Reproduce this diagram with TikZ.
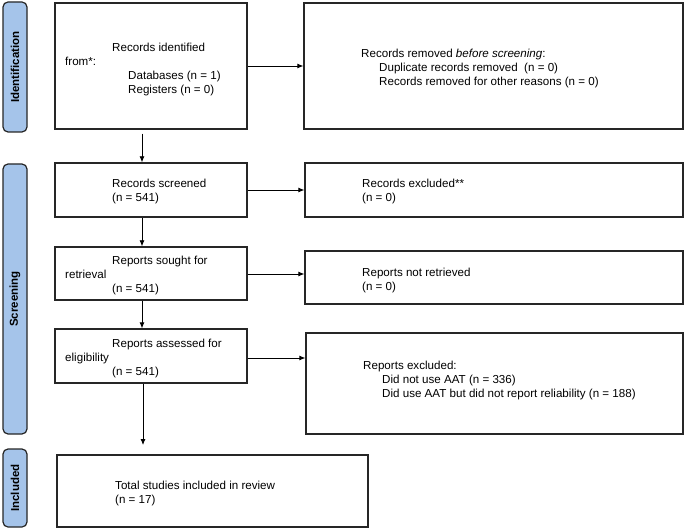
\documentclass[tikz,border=0pt]{standalone}
\usepackage{fontspec}
\setmainfont{Liberation Sans}
\usetikzlibrary{arrows.meta}
\definecolor{sidefill}{RGB}{165,196,234}

\begin{document}
\begin{tikzpicture}[x=1pt,y=-1pt,>={Latex[length=6pt,width=5pt]}]
		\tikzstyle{box}=[rectangle,draw=black!85,line width=1.3pt,fill=white]
		\tikzstyle{side}=[rectangle,rounded corners=5pt,draw=black!85,line width=1.2pt,fill=sidefill,rotate=90,minimum height=24pt,font=\bfseries\fontsize{11.5}{14}\selectfont]
		\tikzstyle{txt}=[anchor=north west,align=left,inner sep=0pt,font=\fontsize{11.6}{14}\selectfont]
		\tikzstyle{edge}=[draw=black,line width=0.8pt,->]

		\useasboundingbox (0,0) rectangle (685,529);

		\begin{scope}

			\node [side,minimum width=130pt] (sidident) at (15,67) {Identification};
			\node [side,minimum width=270pt] (sidscreen) at (15,299) {Screening};
			\node [side,minimum width=78pt] (sidincl) at (15,488) {Included};

			\node [box,minimum width=192pt,minimum height=126pt] (ident) at (151,66) {};
			\node [box,minimum width=379pt,minimum height=126pt] (removed) at (493.5,66) {};
			\node [box,minimum width=192pt,minimum height=54pt] (screened) at (151,190) {};
			\node [box,minimum width=378pt,minimum height=54pt] (excluded) at (494,190) {};
			\node [box,minimum width=192pt,minimum height=53pt] (sought) at (151,273.5) {};
			\node [box,minimum width=378pt,minimum height=53pt] (notretr) at (494,277.5) {};
			\node [box,minimum width=192pt,minimum height=54pt] (assessed) at (151,356) {};
			\node [box,minimum width=377pt,minimum height=101pt] (repexcl) at (494.5,383.5) {};
			\node [box,minimum width=311pt,minimum height=72pt] (included) at (212.5,491) {};

			\node [txt] (identtxt) at (65,42.5) {\hspace*{47pt}Records identified\\from*:\\\hspace*{63pt}Databases (n = 1)\\\hspace*{63pt}Registers (n = 0)};
			\node [txt] (removedtxt) at (361,48.5) {Records removed \textit{before screening}:\\\hspace*{18pt}Duplicate records removed\ \ (n = 0)\\\hspace*{18pt}Records removed for other reasons (n = 0)};
			\node [txt] (screenedtxt) at (112,178.5) {Records screened\\(n = 541)};
			\node [txt] (excludedtxt) at (362,178.5) {Records excluded**\\(n = 0)};
			\node [txt] (soughttxt) at (65,255.5) {\hspace*{47pt}Reports sought for\\retrieval\\\hspace*{47pt}(n = 541)};
			\node [txt] (notretrtxt) at (362,267.5) {Reports not retrieved\\(n = 0)};
			\node [txt] (assessedtxt) at (65,338.5) {\hspace*{47pt}Reports assessed for\\eligibility\\\hspace*{47pt}(n = 541)};
			\node [txt] (repexcltxt) at (363,360.5) {Reports excluded:\\\hspace*{19pt}Did not use AAT (n = 336)\\\hspace*{19pt}Did use AAT but did not report reliability (n = 188)};
			\node [txt] (includedtxt) at (115,480.5) {Total studies included in review\\(n = 17)};

			\coordinate (incltip) at (143,445);

			\draw[edge] (ident) -- (removed);
			\draw[edge] (screened) -- (excluded);
			\draw[edge] ([yshift=-0.5pt]sought.east) -- ([yshift=-0.5pt]sought.east -| notretr.west);
			\draw[edge] ([yshift=-2pt]assessed.east) -- ([yshift=-2pt]assessed.east -| repexcl.west);
			\draw[edge] ([xshift=-9pt,yshift=-4pt]ident.south) -- ([xshift=-9pt]screened.north);
			\draw[edge] ([xshift=-9pt]screened.south) -- ([xshift=-9pt]sought.north);
			\draw[edge] ([xshift=-9pt]sought.south) -- ([xshift=-9pt]assessed.north);
			\draw[edge] ([xshift=-8pt]assessed.south) -- (incltip);

		\end{scope}
\end{tikzpicture}
\end{document}
